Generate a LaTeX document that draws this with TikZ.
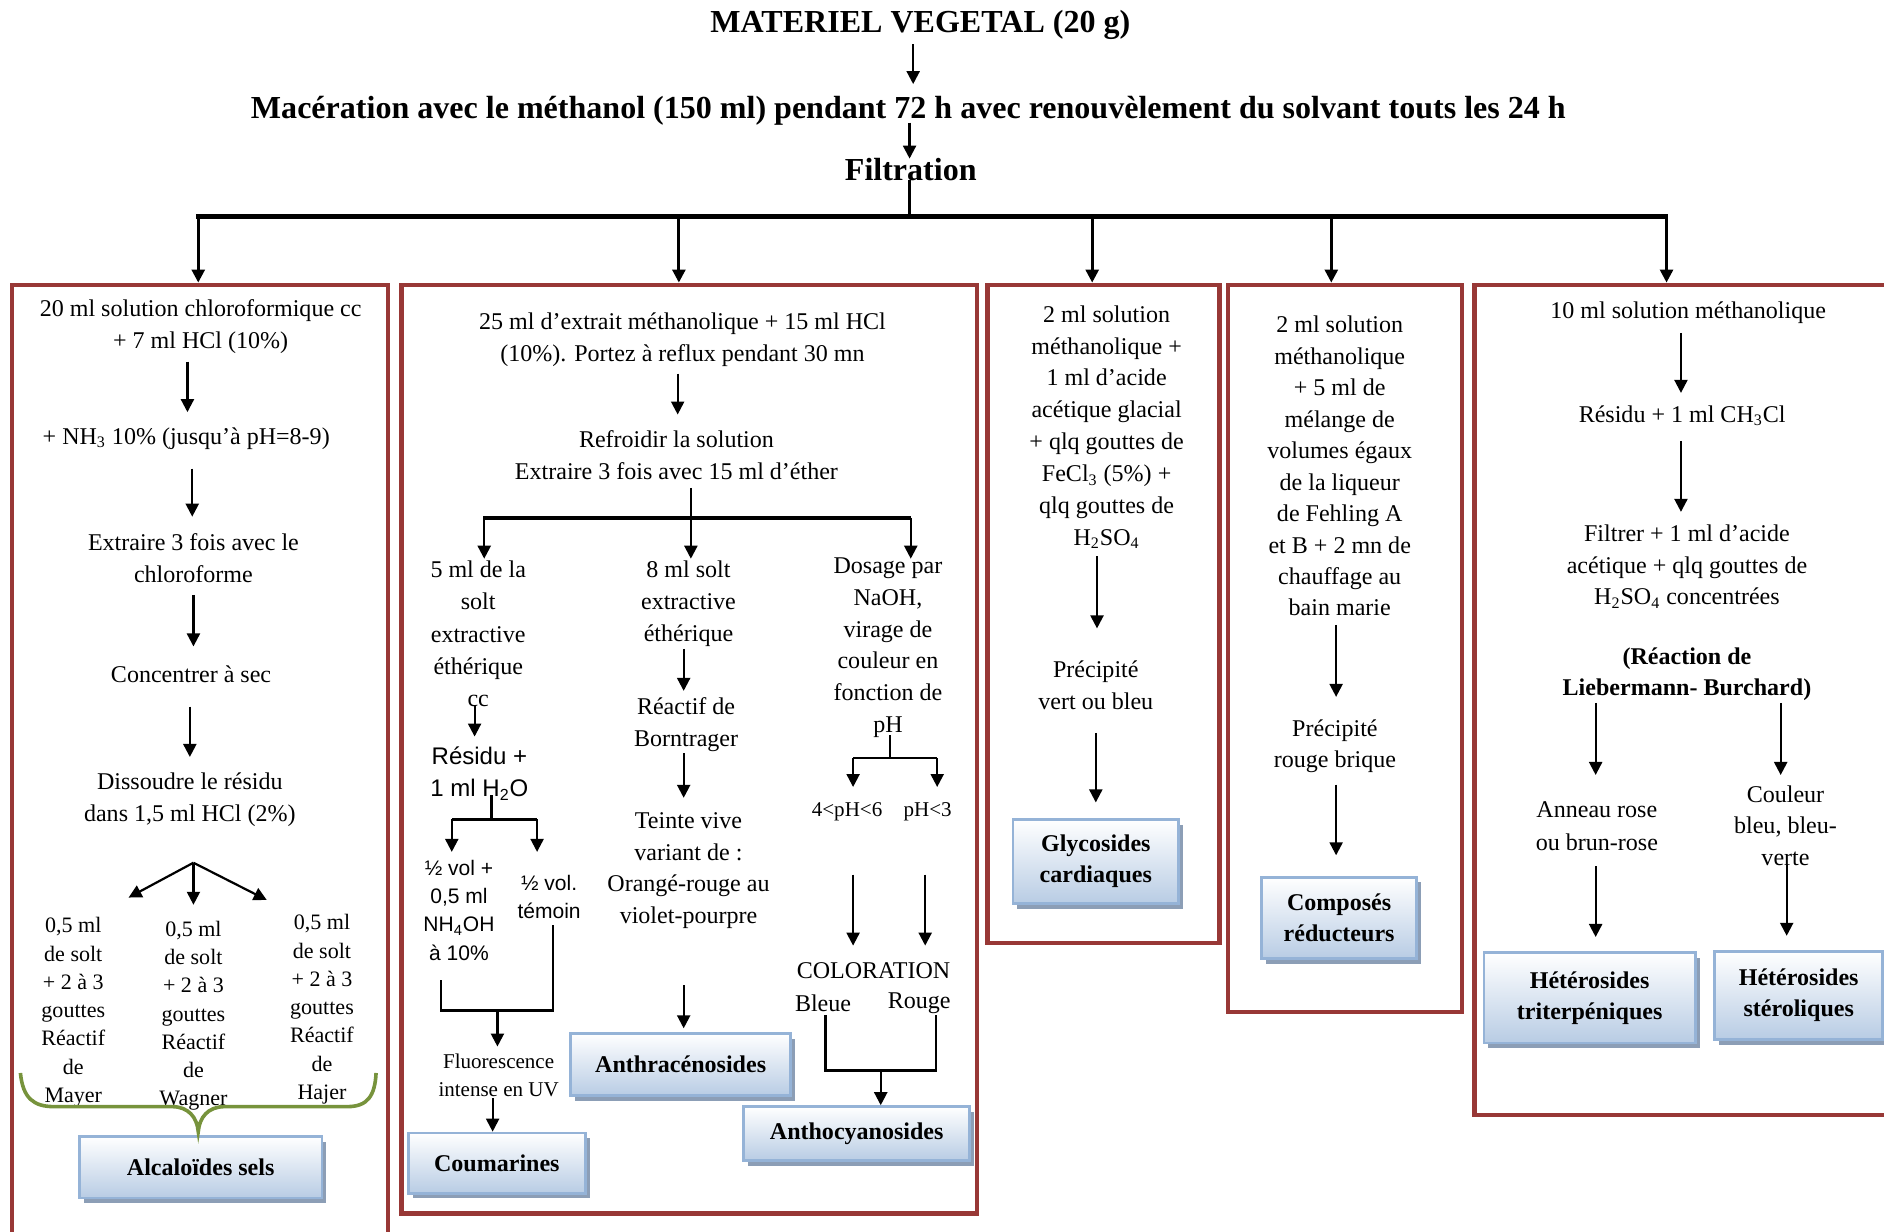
\documentclass[tikz,border=0pt]{standalone}
\usepackage{fontspec}
\setmainfont{Liberation Serif}
\newfontfamily\arialfont{Liberation Sans}
\usetikzlibrary{arrows.meta,calc,fit,shadows}
\definecolor{framered}{RGB}{152,56,54}
\definecolor{boxedge}{RGB}{149,179,215}
\definecolor{boxfill}{RGB}{184,204,228}
\definecolor{boxshadow}{RGB}{140,158,182}
\definecolor{braceolive}{RGB}{119,147,60}
\begin{document}
\begin{tikzpicture}[x=0.6pt,y=-0.6pt,
  t/.style={align=center,inner sep=0pt,font=\fontsize{12}{15.8}\selectfont},
  hdr/.style={align=center,inner sep=0pt,font=\fontsize{16}{18}\selectfont\bfseries},
  sm/.style={align=center,inner sep=0pt,font=\fontsize{11}{14.1}\selectfont},
  sans/.style={align=center,inner sep=0pt,font=\arialfont\fontsize{12}{16.2}\selectfont},
  sanss/.style={align=center,inner sep=0pt,font=\arialfont\fontsize{10.5}{14.2}\selectfont},
  ph/.style={inner sep=0pt,font=\fontsize{10.5}{12}\selectfont},
  fl/.style={align=center,inner sep=0pt,font=\fontsize{10.5}{14.4}\selectfont},
  arr/.style={line width=1.1pt,-{Triangle[length=6.5pt,width=6.5pt]}},
  ln/.style={line width=1.1pt},
  bar/.style={line width=2.3pt},
  brace/.style={draw=braceolive,line width=1.8pt},
  frame/.style={draw=framered,line width=2.2pt,inner sep=0pt},
  result/.style 2 args={draw=boxedge,line width=1.4pt,top color=white,bottom color=boxfill,
    inner sep=0pt,align=center,font=\fontsize{12}{15.6}\selectfont\bfseries,
    minimum width=#1*0.6pt,minimum height=#2*0.6pt,
    drop shadow={shadow xshift=2.2pt,shadow yshift=-2.6pt,fill=boxshadow,opacity=1}},
]
\useasboundingbox (0,0) rectangle (1568,1025);
\clip (0,0) rectangle (1568,1025);

% ---------- headings ----------
\node[hdr] (h0) at (766,21) {MATERIEL VEGETAL (20 g)};
\node[hdr] (h1) at (756,92) {Macération avec le méthanol (150 ml) pendant 72 h avec renouvèlement du solvant touts les 24 h};
\node[hdr] (h2) at (758,141) {Filtration};

% ---------- frames ----------
\node[frame,fit={(10,237) (323,1060)}] (f1) {};
\node[frame,fit={(334,237) (813,1010)}] (f2) {};
\node[frame,fit={(822,237) (1015,785)}] (f3) {};
\node[frame,fit={(1022,237) (1217,842)}] (f4) {};
\node[frame,fit={(1227,237) (1600,928)}] (f5) {};

\draw[arr] ($(h0)+(-6,16)$) -- ($(h1)+(4,-22)$);
\draw[arr] ($(h1)+(1,10)$) -- ($(h2)+(-1,-9)$);
\coordinate (hub) at ($(h2)+(-1,41)$);
\draw[ln] ($(h2)+(-1,9)$) -- (hub);
\draw[bar] ($(f1.north)+(-3.5,-55)$) -- ($(f5.north)+(-25.5,-55)$);
\foreach \f/\dx in {f1/-1.5,f2/-8.5,f3/-9.5,f4/-11.5,f5/-26.5}
  \draw[arr,line width=1.4pt] ($(\f.north)+(\dx,-55)$) -- ($(\f.north)+(\dx,0)$);

% ---------- alcaloides ----------
\node[t] (b1a) at (167,272) {20 ml solution chloroformique cc\\+ 7 ml HCl (10\%)};
\node[t] (b1b) at (155,365) {+ NH\textsubscript{3} 10\% (jusqu’à pH=8-9)};
\node[t] (b1c) at (161,464.5) {Extraire 3 fois avec le\\chloroforme};
\node[t] (b1d) at (159,561) {Concentrer à sec};
\node[t] (b1e) at (158,665.5) {Dissoudre le résidu\\dans 1,5 ml HCl (2\%)};
\node[sm] (m1) at (61,842.5) {0,5 ml\\de solt\\+ 2 à 3\\gouttes\\Réactif\\de\\Mayer};
\node[sm] (m2) at (161,845.5) {0,5 ml\\de solt\\+ 2 à 3\\gouttes\\Réactif\\de\\Wagner};
\node[sm] (m3) at (268,840) {0,5 ml\\de solt\\+ 2 à 3\\gouttes\\Réactif\\de\\Hajer};
\node[result={202}{51}] (alc) at (167,971.5) {Alcaloïdes sels};

\draw[arr] ($(b1a)+(-11,29)$) -- ($(b1b)+(1,-22)$);
\draw[arr] ($(b1b)+(5,25)$) -- ($(b1c)+(-1,-34.5)$);
\draw[arr] ($(b1c)+(0,30.5)$) -- ($(b1d)+(2,-23)$);
\draw[arr] ($(b1d)+(-1,27)$) -- ($(b1e)+(0,-35.5)$);
\coordinate (fan) at ($(b1e)+(3,52.5)$);
\draw[arr] (fan) -- ($(m1)+(46,-95.5)$);
\draw[arr] (fan) -- ($(m2)+(0,-92.5)$);
\draw[arr] (fan) -- ($(m3)+(-46,-91)$);
\draw[brace] (17,893) .. controls (19,914) and (28,921) .. (45,921) -- (143,921)
  .. controls (157,921) and (164,930) .. ($(alc.north)+(-2,-3)$)
  .. controls (166,930) and (173,921) .. (187,921) -- (289,921)
  .. controls (306,921) and (312,912) .. (313,893);

% ---------- coumarines, anthracenosides, anthocyanosides ----------
\node[t] (b2a) at (568,282.5) {25 ml d’extrait méthanolique + 15 ml HCl\\(10\%). Portez à reflux pendant 30 mn};
\node[t] (b2b) at (563,379) {Refroidir la solution\\Extraire 3 fois avec 15 ml d’éther};
\node[t,font=\fontsize{12}{16}\selectfont] (cA) at (398,527.5) {5 ml de la\\solt\\extractive\\éthérique\\cc};
\node[t] (cB1) at (573,502.5) {8 ml solt\\extractive\\éthérique};
\node[t] (cB2) at (571,603) {Réactif de\\Borntrager};
\node[t] (cB3) at (573,724.5) {Teinte vive\\variant de :\\Orangé-rouge au\\violet-pourpre};
\node[t] (cC) at (739,539) {Dosage par\\NaOH,\\virage de\\couleur en\\fonction de\\pH};
\node[ph] (ph1) at (705,676) {4<pH<6};
\node[ph] (ph2) at (772,676) {pH<3};
\node[t] (colo) at (727,808) {COLORATION};
\node[t] (bleu) at (685,835) {Bleue};
\node[t] (rouge) at (765,835) {Rouge};
\node[sans] (res) at (399,643.5) {Résidu +\\1 ml H\textsubscript{2}O};
\node[sanss] (half1) at (382,757.5) {½ vol +\\0,5 ml\\NH\textsubscript{4}OH\\à 10\%};
\node[sanss,font=\arialfont\fontsize{10.5}{13.8}\selectfont] (half2) at (457,746.5) {½ vol.\\témoin};
\node[fl] (fluo) at (415,895) {Fluorescence\\intense en UV};
\node[result={147}{50}] (coum) at (413.5,968) {Coumarines};
\node[result={183}{52}] (anthra) at (566.5,886) {Anthracénosides};
\node[result={188}{45}] (antho) at (713,943.5) {Anthocyanosides};

\draw[arr] ($(b2a)+(-4,28.5)$) -- ($(b2b)+(1,-34)$);
\draw[bar] ($(cA)+(4,-96.5)$) -- ($(cC)+(19,-108)$);
\draw[arr] ($(b2b)+(12,27)$) -- ($(cB1)+(2,-37.5)$);
\draw[arr] ($(cA)+(5,-96.5)$) -- ($(cA)+(5,-62.5)$);
\draw[arr] ($(cC)+(19,-108)$) -- ($(cC)+(19,-74)$);

\draw[arr] ($(cB1)+(-4,37.5)$) -- ($(cB2)+(-2,-28)$);
\draw[arr] ($(cB2)+(-2,24)$) -- ($(cB3)+(-4,-60.5)$);
\draw[arr] ($(cB3)+(-4,95.5)$) -- ($(anthra.north)+(2.5,-3)$);

\draw[ln] ($(cC)+(2,73)$) -- ($(cC)+(2,92)$);
\draw[ln] ($(ph1)+(5,-45)$) -- ($(ph2)+(8,-45)$);
\draw[arr] ($(ph1)+(5,-45)$) -- ($(ph1)+(5,-21)$);
\draw[arr] ($(ph2)+(8,-45)$) -- ($(ph2)+(8,-21)$);
\draw[arr] ($(ph1)+(5,52)$) -- ($(colo)+(-17,-21)$);
\draw[arr] ($(ph2)+(-2,52)$) -- ($(colo)+(43,-21)$);
\draw[ln] ($(bleu)+(2,10)$) |- ($(rouge)+(14,56)$) -- ($(rouge)+(14,10)$);
\draw[arr] ($(bleu)+(48,56)$) -- ($(antho.north)+(20,0)$);

\draw[arr] ($(cA)+(-3,59.5)$) -- ($(res)+(-4,-30.5)$);
\draw[ln] ($(res)+(10,18.5)$) -- ($(res)+(10,38.5)$);
\draw[ln] ($(half1)+(-6,-75.5)$) -- ($(half2)+(-10,-64.5)$);
\draw[arr] ($(half1)+(-6,-75.5)$) -- ($(half1)+(-6,-48.5)$);
\draw[arr] ($(half2)+(-10,-64.5)$) -- ($(half2)+(-10,-37.5)$);
\draw[ln] ($(half1)+(-15,58.5)$) |- ($(half2)+(3,94.5)$) -- ($(half2)+(3,23.5)$);
\draw[arr] ($(half1)+(32,83.5)$) -- ($(fluo)+(-1,-24)$);
\draw[arr] ($(fluo)+(-5,19)$) -- ($(coum.north)+(-3.5,0)$);

% ---------- glycosides cardiaques ----------
\node[t,font=\fontsize{12}{15.9}\selectfont] (b3a) at (921,355.5) {2 ml solution\\méthanolique +\\1 ml d’acide\\acétique glacial\\+ qlq gouttes de\\FeCl\textsubscript{3} (5\%) +\\qlq gouttes de\\H\textsubscript{2}SO\textsubscript{4}};
\node[t,font=\fontsize{12}{16.2}\selectfont] (b3b) at (912,570.5) {Précipité\\vert ou bleu};
\node[result={138}{70}] (glyc) at (912,717) {Glycosides\\cardiaques};
\draw[arr] ($(b3a)+(-8,107.5)$) -- ($(b3b)+(1,-47.5)$);
\draw[arr] ($(b3b)+(0,39.5)$) -- ($(glyc.north)+(0,-13)$);

% ---------- composes reducteurs ----------
\node[t,font=\fontsize{12}{15.7}\selectfont] (b4a) at (1115,388) {2 ml solution\\méthanolique\\+ 5 ml de\\mélange de\\volumes égaux\\de la liqueur\\de Fehling A\\et B + 2 mn de\\chauffage au\\bain marie};
\node[t] (b4b) at (1111,621) {Précipité\\rouge brique};
\node[result={129}{68}] (comp) at (1114.5,764) {Composés\\réducteurs};
\draw[arr] ($(b4a)+(-3,132)$) -- ($(b4b)+(1,-41)$);
\draw[arr] ($(b4b)+(1,32)$) -- ($(comp.north)+(-2.5,-17)$);

% ---------- heterosides ----------
\node[t] (b5a) at (1405,260) {10 ml solution méthanolique};
\node[t] (b5b) at (1400,346) {Résidu + 1 ml CH\textsubscript{3}Cl};
\node[t,font=\fontsize{12}{15.9}\selectfont] (b5c) at (1404,471.5) {Filtrer + 1 ml d’acide\\acétique + qlq gouttes de\\H\textsubscript{2}SO\textsubscript{4} concentrées};
\node[t,font=\fontsize{12}{15.6}\selectfont\bfseries] (b5d) at (1404,561) {(Réaction de\\Liebermann- Burchard)};
\node[t,font=\fontsize{12}{16.2}\selectfont] (b5e) at (1329,687.5) {Anneau rose\\ou brun-rose};
\node[t] (b5f) at (1486,687) {Couleur\\bleu, bleu-\\verte};
\node[result={176}{75}] (trit) at (1323,830.5) {Hétérosides\\triterpéniques};
\node[result={140}{73}] (ster) at (1497,828.5) {Hétérosides\\stéroliques};
\draw[arr] ($(b5a)+(-6,17)$) -- ($(b5b)+(-1,-19)$);
\draw[arr] ($(b5b)+(-1,21)$) -- ($(b5c)+(-5,-45.5)$);
\draw[arr] ($(b5d)+(-76,24)$) -- ($(b5e)+(-1,-42.5)$);
\draw[arr] ($(b5d)+(78,24)$) -- ($(b5f)+(-4,-42)$);
\draw[arr] ($(b5e)+(-1,33.5)$) -- ($(trit.north)+(5,-12)$);
\draw[arr] ($(b5f)+(1,33)$) -- ($(ster.north)+(-10,-12)$);
\end{tikzpicture}
\end{document}
